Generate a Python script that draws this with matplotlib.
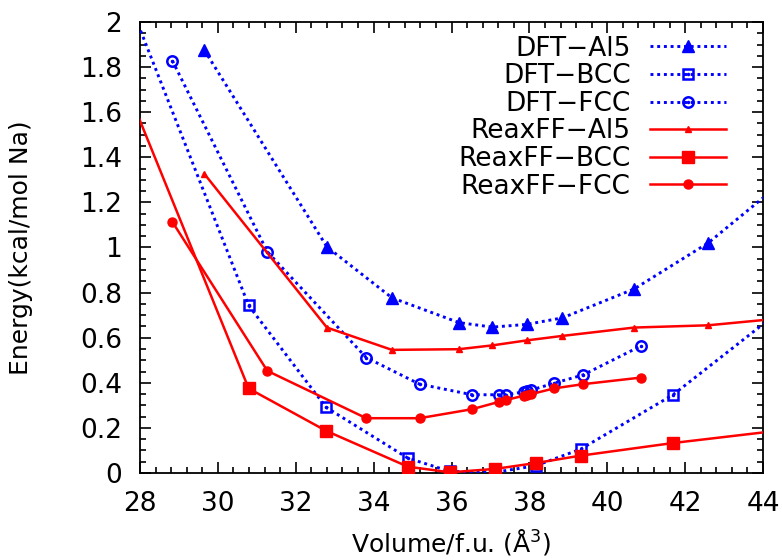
import matplotlib
matplotlib.use('Agg')
import matplotlib.pyplot as plt
from matplotlib.ticker import MultipleLocator, FuncFormatter
from matplotlib.legend_handler import HandlerTuple

# Data (Volume per formula unit, A^3 ; energy kcal/mol Na)
vol_al5 = [29.65, 32.80, 34.47, 36.19, 37.05, 37.93, 38.85, 40.69, 42.59, 44.6]
e_dft_al5 = [1.876, 1.003, 0.777, 0.667, 0.647, 0.659, 0.688, 0.816, 1.02, 1.305]
e_rx_al5 = [1.327, 0.645, 0.546, 0.549, 0.566, 0.588, 0.608, 0.645, 0.655, 0.688]

vol_bcc = [27.7, 30.79, 32.78, 34.88, 35.96, 37.11, 38.16, 39.32, 41.69, 44.6]
e_dft_bcc = [2.10, 0.743, 0.291, 0.066, 0.007, 0.003, 0.032, 0.106, 0.347, 0.741]
e_rx_bcc = [1.69, 0.375, 0.187, 0.028, 0.003, 0.018, 0.044, 0.077, 0.133, 0.192]

vol_fcc = [28.83, 31.27, 33.81, 35.18, 36.53, 37.23, 37.41, 37.86, 37.95, 38.05, 38.63, 39.38, 40.86]
e_dft_fcc = [1.829, 0.981, 0.512, 0.394, 0.347, 0.347, 0.347, 0.360, 0.364, 0.368, 0.398, 0.435, 0.563]
e_rx_fcc = [1.114, 0.453, 0.243, 0.243, 0.283, 0.316, 0.324, 0.343, 0.347, 0.350, 0.375, 0.394, 0.423]

labels = ['DFT\u2212Al5', 'DFT\u2212BCC', 'DFT\u2212FCC',
          'ReaxFF\u2212Al5', 'ReaxFF\u2212BCC', 'ReaxFF\u2212FCC']

plt.rcParams['font.family'] = ['DejaVu Sans']
plt.rcParams['font.size'] = 19

blue = '#0000ff'
red = '#ff0000'
dots = (0, (1, 1.3))

fig = plt.figure(figsize=(7.82, 5.6), dpi=100)
ax = fig.add_axes([140 / 782, 1 - 473 / 560, 623 / 782, 451 / 560])

# DFT curves (blue dotted)
h1, = ax.plot(vol_al5, e_dft_al5, color=blue, ls=dots, lw=2.1, marker='^', ms=9, zorder=3)
h2, = ax.plot(vol_bcc, e_dft_bcc, color=blue, ls=dots, lw=2.1, marker='s', ms=7,
              mfc='none', mew=1.8, zorder=3)
h2d, = ax.plot(vol_bcc, e_dft_bcc, ls='none', color=blue, marker='.', ms=3, zorder=3)
h3, = ax.plot(vol_fcc, e_dft_fcc, color=blue, ls=dots, lw=2.1, marker='o', ms=7.5,
              mfc='none', mew=1.8, zorder=3)
h3d, = ax.plot(vol_fcc, e_dft_fcc, ls='none', color=blue, marker='.', ms=3, zorder=3)

# ReaxFF curves (red solid)
h4, = ax.plot(vol_al5, e_rx_al5, color=red, lw=1.8, marker='^', ms=5, zorder=4)
h5, = ax.plot(vol_bcc, e_rx_bcc, color=red, lw=1.8, marker='s', ms=8, zorder=4)
h6, = ax.plot(vol_fcc, e_rx_fcc, color=red, lw=1.8, marker='o', ms=6.5, zorder=4)

ax.set_xlim(28, 44)
ax.set_ylim(0, 2)
ax.xaxis.set_major_locator(MultipleLocator(2))
ax.xaxis.set_minor_locator(MultipleLocator(0.4))
ax.yaxis.set_major_locator(MultipleLocator(0.2))
ax.yaxis.set_minor_locator(MultipleLocator(0.05))
ax.yaxis.set_major_formatter(FuncFormatter(lambda v, p: '%g' % round(v, 2)))

ax.tick_params(which='both', direction='in', top=True, right=True, width=1.2)
ax.tick_params(which='major', length=8, pad=13)
ax.tick_params(which='minor', length=4.5)
for s in ax.spines.values():
    s.set_linewidth(1.3)

ax.set_xlabel('Volume/f.u. (\u00c5$^3$)', fontsize=18)
ax.set_ylabel('Energy(kcal/mol Na)', fontsize=18)
ax.xaxis.set_label_coords(0.5, -0.12)
ax.yaxis.set_label_coords(-0.172, 0.5)

leg = ax.legend([h1, (h2, h2d), (h3, h3d), h4, h5, h6], labels,
                handler_map={tuple: HandlerTuple(ndivide=1)},
                loc='upper right', bbox_to_anchor=(0.957, 0.993), frameon=False,
                markerfirst=False, handlelength=2.85, labelspacing=0.06,
                handletextpad=0.75, borderaxespad=0)

plt.savefig('out.png', dpi=100)
